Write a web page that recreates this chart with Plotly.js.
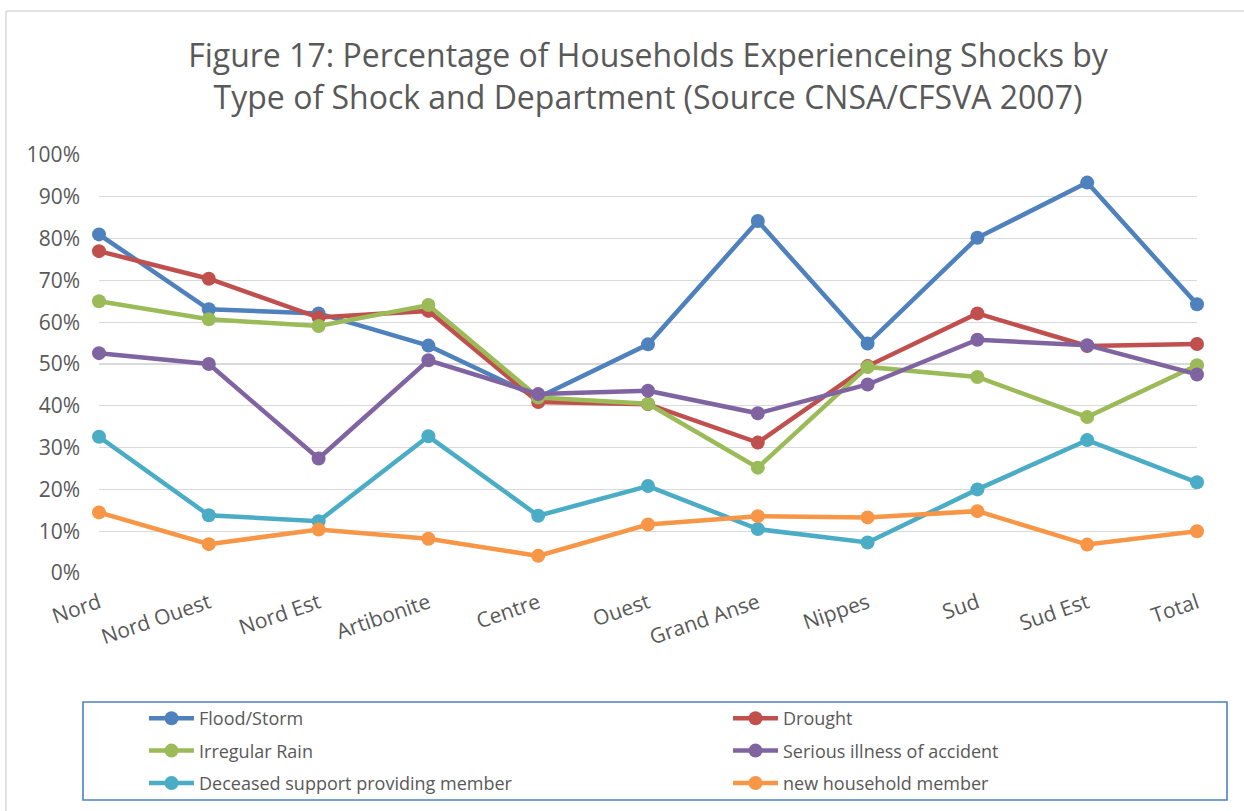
<!DOCTYPE html>
<html><head><meta charset="utf-8">
<script src="https://cdn.plot.ly/plotly-3.0.1.min.js"></script>
<style>body{margin:0;background:#fff}#chart{width:1244px;height:811px}</style>
</head><body><div id="chart"></div>
<script>
const departments = ["Nord","Nord Ouest","Nord Est","Artibonite","Centre","Ouest","Grand Anse","Nippes","Sud","Sud Est","Total"];
const floodStorm   = [81.0, 63.1, 62.1, 54.4, 42.0, 54.7, 84.2, 54.9, 80.2, 93.4, 64.3];
const drought      = [77.0, 70.4, 61.1, 62.7, 40.9, 40.4, 31.2, 49.5, 62.1, 54.3, 54.8];
const irregularRain= [65.0, 60.7, 59.1, 64.1, 42.0, 40.5, 25.2, 49.3, 46.9, 37.3, 49.7];
const seriousIllness=[52.6, 50.0, 27.4, 50.9, 42.8, 43.6, 38.2, 45.1, 55.8, 54.5, 47.5];
const deceasedMember=[32.6, 13.8, 12.4, 32.7, 13.7, 20.8, 10.5,  7.3, 20.0, 31.8, 21.7];
const newMember    = [14.5,  6.9, 10.4,  8.2,  4.1, 11.6, 13.6, 13.3, 14.8,  6.8, 10.0];
const seriesNames = ["Flood/Storm","Drought","Irregular Rain","Serious illness of accident","Deceased support providing member","new household member"];
const seriesColors = ["#4F81BD","#C0504D","#9BBB59","#8064A2","#4BACC6","#F79646"];
const seriesData = [floodStorm, drought, irregularRain, seriousIllness, deceasedMember, newMember];

const traces = seriesData.map((vals, i) => ({
  type: "scatter", mode: "lines+markers",
  x: departments, y: vals, name: seriesNames[i],
  legend: (i % 2 === 0) ? "legend" : "legend2",
  legendgroup: "g" + i,
  line: {color: seriesColors[i], width: 4.5},
  marker: {color: seriesColors[i], size: 14},
  cliponaxis: false
}));

const font = "Open Sans, sans-serif";
const legendCommon = {
  orientation: "v", xanchor: "left", yanchor: "top",
  font: {family: font, size: 18, color: "#595959"},
  bgcolor: "rgba(0,0,0,0)", borderwidth: 0, tracegroupgap: 6,
  itemwidth: 45,
  itemclick: false, itemdoubleclick: false
};

const layout = {
  width: 1244, height: 811,
  margin: {l: 99, r: 47, t: 155, b: 238, autoexpand: false},
  paper_bgcolor: "#ffffff", plot_bgcolor: "#ffffff",
  font: {family: font, color: "#595959"},
  title: {
    text: "Figure 17: Percentage of Households Experienceing Shocks by<br>Type of Shock and Department (Source CNSA/CFSVA 2007)",
    font: {family: font, size: 32, color: "#595959"},
    xref: "paper", x: 0.5, xanchor: "center",
    yref: "container", y: 1 - 67/811, yanchor: "middle"
  },
  xaxis: {
    type: "category", range: [0, 10],
    showgrid: false, zeroline: false, showline: false, ticks: "",
    tickangle: -19, ticklabelstandoff: 13,
    tickfont: {family: font, size: 21, color: "#595959"}
  },
  yaxis: {
    range: [0, 100], dtick: 10, ticksuffix: "%",
    showgrid: true, gridcolor: "#D9D9D9", gridwidth: 1.3,
    zeroline: false, showline: false, ticks: "",
    ticklabelstandoff: 18,
    tickfont: {family: font, size: 21, color: "#595959"}
  },
  legend: Object.assign({}, legendCommon, {x: (144 - 99) / 1098, y: (573 - 700) / 418}),
  legend2: Object.assign({}, legendCommon, {x: (728 - 99) / 1098, y: (573 - 700) / 418}),
  shapes: [
    {type: "rect", xref: "paper", yref: "paper",
     x0: (83 - 99) / 1098, x1: (1227 - 99) / 1098,
     y0: (573 - 702) / 418, y1: (573 - 800) / 418,
     line: {color: "#4F81BD", width: 1.6}, fillcolor: "rgba(0,0,0,0)", layer: "below"},
    {type: "line", xref: "paper", yref: "paper",
     x0: (6 - 99) / 1098, x1: (6 - 99) / 1098,
     y0: (573 - 11) / 418, y1: (573 - 811) / 418,
     line: {color: "#D9D9D9", width: 1.5}, layer: "below"},
    {type: "line", xref: "paper", yref: "paper",
     x0: (6 - 99) / 1098, x1: (1244 - 99) / 1098,
     y0: (573 - 11) / 418, y1: (573 - 11) / 418,
     line: {color: "#D9D9D9", width: 1.5}, layer: "below"}
  ],
  showlegend: true
};

Plotly.newPlot("chart", traces, layout, {displayModeBar: false, staticPlot: true});
</script>
</body></html>
